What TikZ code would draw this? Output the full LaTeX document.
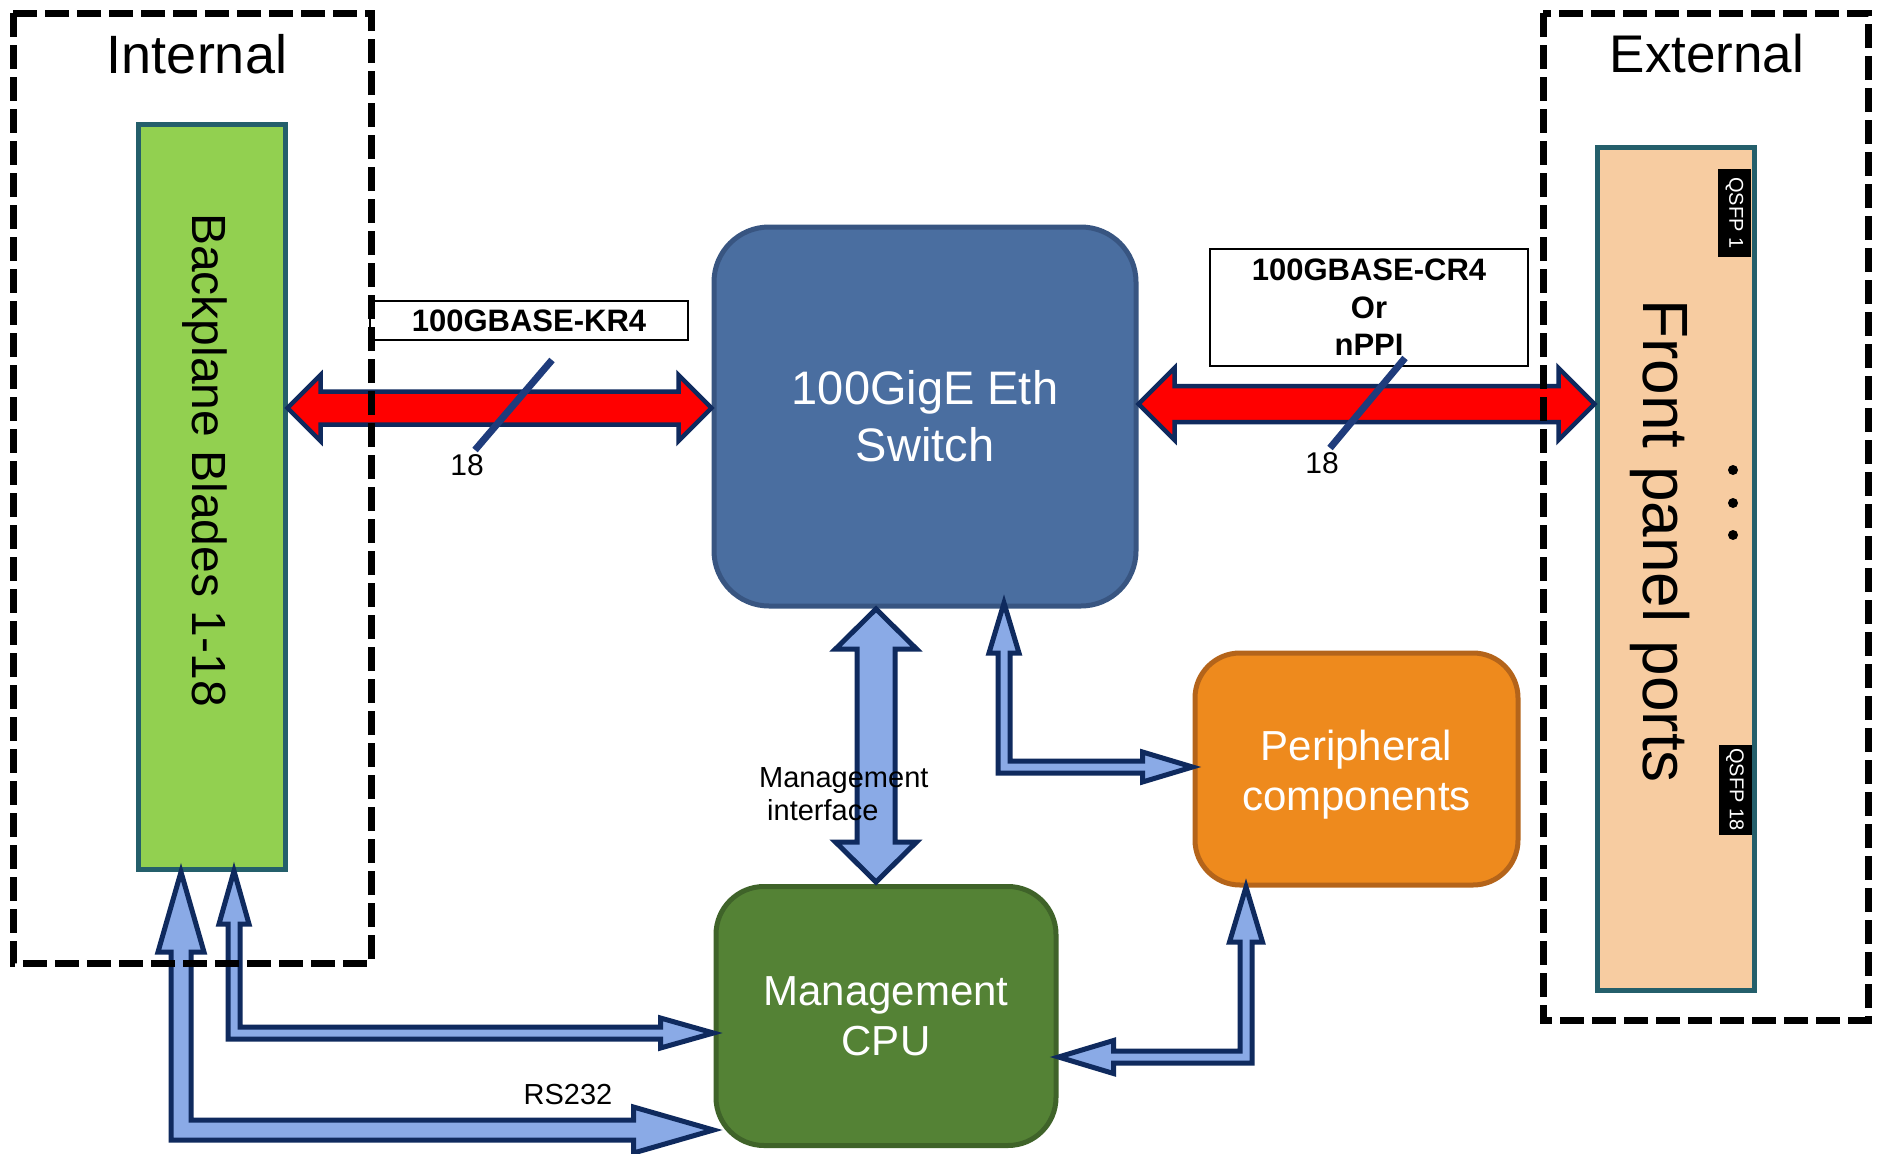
\documentclass[tikz,border=0pt]{standalone}
\usepackage{fontspec}
\setmainfont{Liberation Sans}
\usetikzlibrary{calc}
\definecolor{navy}{HTML}{0F2A5E}
\definecolor{lblue}{HTML}{8AAAE6}
\definecolor{lgreen}{HTML}{92D050}
\definecolor{tealb}{HTML}{245F6B}
\definecolor{swblue}{HTML}{4A6EA0}
\definecolor{swborder}{HTML}{385581}
\definecolor{orfill}{HTML}{EE8A1D}
\definecolor{orborder}{HTML}{B4641A}
\definecolor{cpufill}{HTML}{548235}
\definecolor{cpuborder}{HTML}{3F6329}
\definecolor{peach}{HTML}{F7CCA1}
\definecolor{slashc}{HTML}{1F3C7C}
\newcommand\fs[2]{\fontsize{#1}{#2}\selectfont}
% horizontal double arrow: style, left tip, right tip, shaft half, head half, head length
\newcommand\hdarrow[6]{\path[#1] let \p1=(#2), \p2=(#3) in
  (\x1,\y1) -- (\x1+#6pt,\y1+#5pt) -- (\x1+#6pt,\y1+#4pt) -- (\x2-#6pt,\y1+#4pt) -- (\x2-#6pt,\y1+#5pt)
  -- (\x2,\y1) -- (\x2-#6pt,\y1-#5pt) -- (\x2-#6pt,\y1-#4pt) -- (\x1+#6pt,\y1-#4pt) -- (\x1+#6pt,\y1-#5pt) -- cycle;}
% vertical double arrow: style, top tip, bottom tip, shaft half, head half, head length
\newcommand\vdarrow[6]{\path[#1] let \p1=(#2), \p2=(#3) in
  (\x1,\y1) -- (\x1+#5pt,\y1-#6pt) -- (\x1+#4pt,\y1-#6pt) -- (\x1+#4pt,\y2+#6pt) -- (\x1+#5pt,\y2+#6pt)
  -- (\x1,\y2) -- (\x1-#5pt,\y2+#6pt) -- (\x1-#4pt,\y2+#6pt) -- (\x1-#4pt,\y1-#6pt) -- (\x1-#5pt,\y1-#6pt) -- cycle;}
% L arrow, up tip then right tip
\newcommand\larrowR[6]{\path[#1] let \p1=(#2), \p2=(#3) in
  (\x1,\y1) -- (\x1+#5pt,\y1-#6pt) -- (\x1+#4pt,\y1-#6pt) -- (\x1+#4pt,\y2+#4pt) -- (\x2-#6pt,\y2+#4pt)
  -- (\x2-#6pt,\y2+#5pt) -- (\x2,\y2) -- (\x2-#6pt,\y2-#5pt) -- (\x2-#6pt,\y2-#4pt) -- (\x1-#4pt,\y2-#4pt)
  -- (\x1-#4pt,\y1-#6pt) -- (\x1-#5pt,\y1-#6pt) -- cycle;}
% L arrow, up tip then left tip
\newcommand\larrowL[6]{\path[#1] let \p1=(#2), \p2=(#3) in
  (\x1,\y1) -- (\x1+#5pt,\y1-#6pt) -- (\x1+#4pt,\y1-#6pt) -- (\x1+#4pt,\y2-#4pt) -- (\x2+#6pt,\y2-#4pt)
  -- (\x2+#6pt,\y2-#5pt) -- (\x2,\y2) -- (\x2+#6pt,\y2+#5pt) -- (\x2+#6pt,\y2+#4pt) -- (\x1-#4pt,\y2+#4pt)
  -- (\x1-#4pt,\y1-#6pt) -- (\x1-#5pt,\y1-#6pt) -- cycle;}
\begin{document}
\begin{tikzpicture}[x=1pt,y=-1pt,
  box/.style={draw, line width=5pt, inner sep=0pt},
  bluearr/.style={fill=lblue, draw=navy, line width=5pt, line join=miter},
  redarr/.style={fill=red, draw=navy, line width=4.5pt, line join=miter},
  dashbox/.style={draw=black, line width=7pt, dash pattern=on 24pt off 8pt},
  lbl/.style={draw=black, line width=1.5pt, fill=white, inner sep=0pt},
  qsfp/.style={fill=black, text=white, rotate=-90, inner sep=0pt, font=\fs{20}{22}},
  dot/.style={circle, fill=black, inner sep=0pt, minimum size=10pt},
  slash/.style={draw=slashc, line width=7pt}]
\useasboundingbox (0,0) rectangle (1877,1154);
\fill[white] (0,0) rectangle (1877,1154);

% boxes
\node[box, draw=tealb, fill=lgreen, minimum width=147pt, minimum height=745pt] (bp) at (211.5,496.5) {};
\node[rotate=-90, font=\fs{48}{58}] (bptext) at (205,460) {Backplane Blades 1-18};
\node[box, rounded corners=55pt, fill=swblue, draw=swborder, minimum width=422pt, minimum height=379pt,
      text=white, align=center, font=\fs{47}{57}] (sw) at (925,416.5) {100GigE Eth\\Switch};
\node[box, rounded corners=45pt, fill=orfill, draw=orborder, minimum width=323pt, minimum height=232pt] (per) at (1356.5,769) {};
\node[text=white, align=center, font=\fs{42}{50}] (pertext) at (1356.5,775) {Peripheral\\components};
\node[box, rounded corners=48pt, fill=cpufill, draw=cpuborder, minimum width=340pt, minimum height=259pt,
      text=white, align=center, font=\fs{42}{50}] (cpu) at (886,1016) {Management\\CPU};
\node[box, draw=tealb, fill=peach, minimum width=157pt, minimum height=843pt] (fp) at (1675.5,568.5) {};
\node[rotate=-90, font=\fs{64}{70}] (fptext) at (1660,541) {Front panel ports};
\node[qsfp, minimum width=88pt, minimum height=33pt] (q1) at (1734.5,213) {QSFP 1};
\node[qsfp, minimum width=90pt, minimum height=33pt] (q18) at (1735,789.5) {QSFP 18};
\node[dot] (d1) at (1733,470) {};
\node[dot] (d2) at (1733,503) {};
\node[dot] (d3) at (1733,535) {};

% titles
\node[anchor=base, font=\fs{54}{60}] (tint) at (197,73) {Internal};
\node[anchor=base, font=\fs{53}{60}] (text) at (1707,72) {External};

% label boxes
\node[lbl, minimum width=318pt, minimum height=39pt, font=\bfseries\fs{31}{37}] (kr4) at (529,320.5) {100GBASE-KR4};
\node[lbl, minimum width=318pt, minimum height=117pt, align=center, font=\bfseries\fs{31}{37.5}] (cr4) at (1369,307.5) {100GBASE-CR4\\Or\\nPPI};

% connector end points
\coordinate (rl1) at (bp.east |- 0,408);
\coordinate (rl2) at (sw.west |- 0,408);
\coordinate (rr1) at (sw.east |- 0,404);
\coordinate (rr2) at (fp.west |- 0,404);
\coordinate (m1) at (876,609);
\coordinate (m2) at (876,882);
\coordinate (sp1) at (1004,603);
\coordinate (sp2) at (per.west |- 0,767);
\coordinate (pc1) at (1246,887);
\coordinate (pc2) at (cpu.east |- 0,1057);
\coordinate (bc1) at (234,871);
\coordinate (bc2) at (cpu.west |- 0,1033);
\coordinate (rs1) at (181,872);
\coordinate (rs2) at (cpu.west |- 0,1130);

% red arrows
\hdarrow{redarr}{rl1}{rl2}{16.5}{33}{33}
\hdarrow{redarr}{rr1}{rr2}{18}{36}{36}

% blue arrows
\vdarrow{bluearr}{m1}{m2}{19}{40.5}{40}
\larrowR{bluearr}{sp1}{sp2}{6}{15}{50}
\larrowL{bluearr}{pc1}{pc2}{6}{16.5}{55}
\larrowR{bluearr}{bc1}{bc2}{6}{15}{53}
\larrowR{bluearr}{rs1}{rs2}{10}{23}{80}

% slashes
\coordinate (s1a) at (552,360); \coordinate (s1b) at (475,450);
\coordinate (s2a) at (1405,358); \coordinate (s2b) at (1330,448);
\draw[slash] (s1a) -- (s1b);
\draw[slash] (s2a) -- (s2b);
\node[font=\fs{30}{34}] (n18a) at (467,465) {18};
\node[font=\fs{30}{34}] (n18b) at (1322,463) {18};

% other labels
\node[anchor=west, inner sep=0pt, align=left, font=\fs{29}{33}] (mgmt) at (759,794) {Management\\\hspace*{8pt}interface};
\node[font=\fs{29}{33}] (rs) at (568,1095) {RS232};

% dashed boxes
\draw[dashbox] (13,13) rectangle (371,963);
\draw[dashbox] (1543,13) rectangle (1868,1020);
\end{tikzpicture}
\end{document}
